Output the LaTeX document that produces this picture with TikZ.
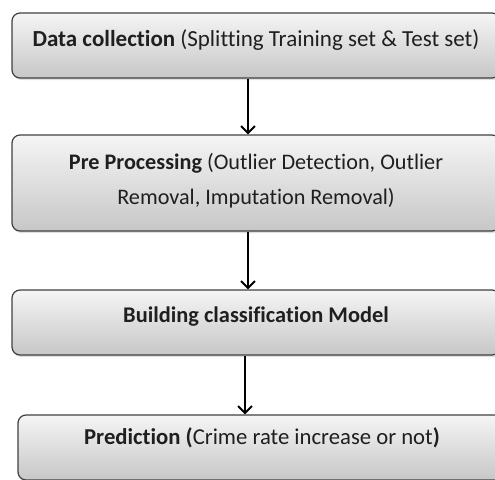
\documentclass[tikz,border=0pt]{standalone}
\usepackage{fontspec}
\setmainfont{Carlito}[Ligatures=NoCommon]
\usetikzlibrary{arrows.meta, shadows}

\tikzset{
	stage/.style={draw=black!75, line width=1.2pt, rounded corners=8pt,
		top color=black!4, bottom color=black!22,
		drop shadow={opacity=0.25, shadow xshift=1pt, shadow yshift=-2pt},
		minimum width=488pt, minimum height=65pt, align=center,
		font=\fontsize{#1}{35}\selectfont, text=black!88},
	stage/.default=23,
	lift/.style={execute at end node={\rule[-#1]{0pt}{#1}}},
	flow/.style={line width=1.9pt, -{Straight Barb[length=7pt, width=14pt, line width=1.9pt]}}
}

\begin{document}
\begin{tikzpicture}[x=1pt, y=-1pt]
	\useasboundingbox (0,0) rectangle (495,479);
	\clip (0,0) rectangle (495,479);

	\node [stage, lift=14pt] (data) at (256,45.5) {\textbf{Data collection} (Splitting Training set \& Test set)};
	\node [stage=22.2, minimum height=96pt, lift=8pt] (prep) at (256,183) {\textbf{Pre Processing} (Outlier Detection, Outlier\\ Removal, Imputation Removal)};
	\node [stage=22.4, lift=16pt] (model) at (256,322.5) {\textbf{Building classification Model}};
	\node [stage=22.7, lift=22pt] (pred) at (262,447.5) {\textbf{Prediction (}Crime rate increase or not\textbf{)}};

	% arrows sit a little left of the box centres
	\draw [flow] ([xshift=-8pt]data.south) -- ([xshift=-8pt]prep.north);
	\draw [flow] ([xshift=-8pt]prep.south) -- ([xshift=-8pt]model.north);
	\draw [flow] ([xshift=-11pt]model.south) -- ([xshift=-17pt]pred.north);
\end{tikzpicture}
\end{document}
